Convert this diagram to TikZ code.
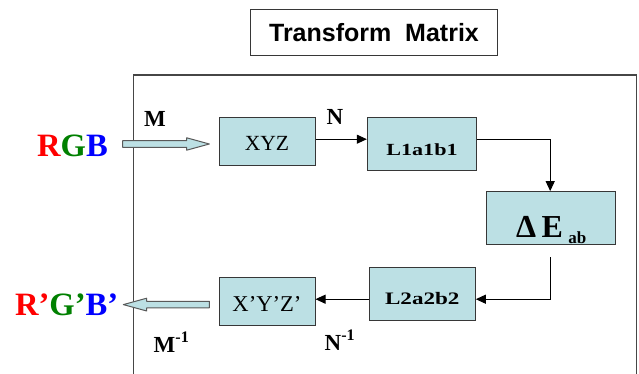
\documentclass[tikz,border=0pt]{standalone}
\usepackage{fontspec}
\setmainfont{Liberation Serif}
\newfontfamily\sansf{Liberation Sans}
\usetikzlibrary{arrows.meta,calc}
\definecolor{boxfill}{RGB}{188,224,228}
\definecolor{boxline}{RGB}{55,55,55}
\definecolor{frameline}{RGB}{70,70,70}
\definecolor{rgbred}{RGB}{255,0,0}
\definecolor{rgbgreen}{RGB}{0,128,0}
\definecolor{rgbblue}{RGB}{0,0,255}
\begin{document}
\begin{tikzpicture}[x=1pt,y=-1pt,
  box/.style={draw=boxline, fill=boxfill, line width=1pt, inner sep=0pt, anchor=center, text depth=0pt},
  lbl/.style={inner sep=0pt, anchor=base, font=\bfseries\fontsize{23}{23}\selectfont},
  big/.style={inner sep=0pt, anchor=base, font=\bfseries\fontsize{32.6}{33}\selectfont},
  conn/.style={line width=1pt, -{Triangle[length=10pt,width=9pt]}},
  fat/.style={fill=boxfill, draw=gray!70!black, line width=1pt, line join=round}]
\useasboundingbox (0,0) rectangle (639,374);
% title
\node[draw=boxline, line width=1pt, minimum width=247pt, minimum height=45.7pt, inner sep=0pt,
  font=\sansf\bfseries\fontsize{25}{25}\selectfont] (title) at (374,32.2) {Transform\ \ Matrix};
% frame (cut by the lower edge)
\draw[frameline, line width=1.3pt] (133.3,374) -- (133.3,75) -- (636.7,75) -- (636.7,374);
% boxes
\node[box, minimum width=96pt, minimum height=47.7pt, text height=17.6pt,
  font=\fontsize{21.6}{22}\selectfont] (xyz) at (267,141.2) {XYZ};
\node[box, minimum width=109.4pt, minimum height=53pt, text height=23.6pt,
  font=\bfseries\fontsize{17}{17}\selectfont] (l1) at (422,144.2) {\scalebox{1.3}[1]{L1a1b1}};
\node[box, minimum width=129pt, minimum height=53.3pt, text height=38.8pt,
  font=\bfseries\fontsize{32}{32}\selectfont] (de) at (551.2,218.3)
  {Δ\,E\,\raisebox{-5.6pt}{\fontsize{17}{17}\selectfont ab}};
\node[box, minimum width=106pt, minimum height=53pt, text height=20.2pt,
  font=\bfseries\fontsize{17.5}{17.5}\selectfont] (l2) at (422.3,294.2) {\scalebox{1.32}[1]{L2a2b2}};
\node[box, minimum width=96pt, minimum height=48.3pt, text height=19.8pt,
  font=\fontsize{22.6}{23}\selectfont] (xp) at (267,301.8) {X’Y’Z’};
% outer texts
\node[big] (rgb) at (72.5,156.7) {\textcolor{rgbred}{R}\textcolor{rgbgreen}{G}\textcolor{rgbblue}{B}};
\node[big] (rgbp) at (66.7,315.7) {\textcolor{rgbred}{R’}\textcolor{rgbgreen}{G’}\textcolor{rgbblue}{B’}};
\node[lbl] (m) at (155,126.7) {M};
\node[lbl] (n) at (335,125) {N};
\node[lbl] (mi) at (171.5,352) {M\textsuperscript{-1}};
\node[lbl] (ni) at (340,350) {N\textsuperscript{-1}};
% fat arrows
\coordinate (f1s) at (122.7,144);
\coordinate (f1e) at (209.3,144);
\draw[fat] ($(f1s)+(0,-3.3)$) -- ($(f1e)+(-22.6,-3.3)$) -- ($(f1e)+(-22.6,-6.2)$) -- (f1e)
  -- ($(f1e)+(-22.6,6.2)$) -- ($(f1e)+(-22.6,3.3)$) -- ($(f1s)+(0,3.3)$) -- cycle;
\coordinate (f2s) at (209.3,304.6);
\coordinate (f2e) at (123.3,304.6);
\draw[fat] ($(f2s)+(0,-3.3)$) -- ($(f2e)+(23.4,-3.3)$) -- ($(f2e)+(23.4,-6.4)$) -- (f2e)
  -- ($(f2e)+(23.4,6.4)$) -- ($(f2e)+(23.4,3.3)$) -- ($(f2s)+(0,3.3)$) -- cycle;
% connectors
\draw[conn] ([yshift=2pt]xyz.east) -- ([yshift=2pt]xyz.east -| l1.west);
\draw[conn] ([yshift=5pt]l1.east) -| ([xshift=-1pt]de.north);
\draw[conn] ([xshift=-1pt,yshift=-11.7pt]de.south) |- ([yshift=-5pt]l2.east);
\draw[conn] ([yshift=-5pt]l2.west) -- ([yshift=-5pt]l2.west -| xp.east);
\end{tikzpicture}
\end{document}
